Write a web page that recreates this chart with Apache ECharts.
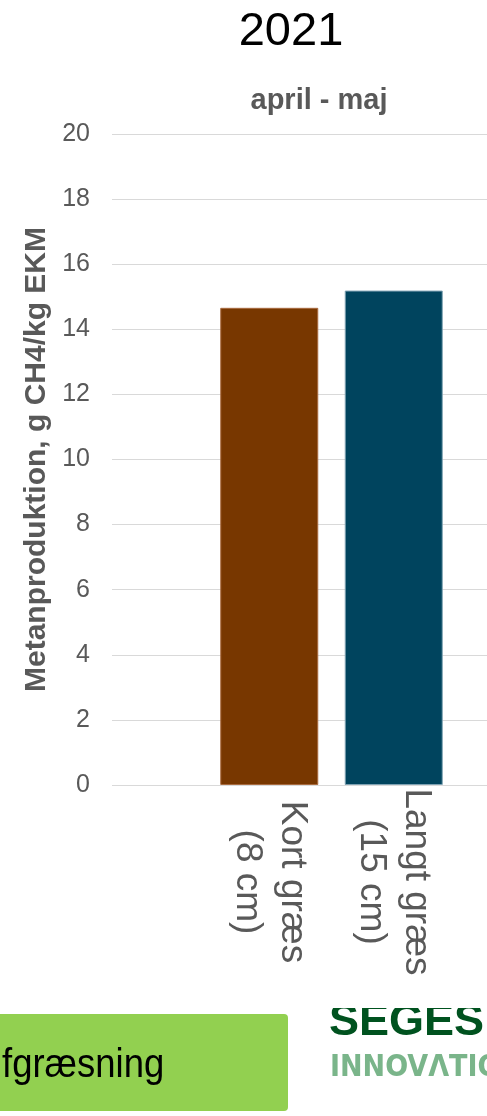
<!DOCTYPE html>
<html>
<head>
<meta charset="utf-8">
<script src="https://cdn.jsdelivr.net/npm/echarts@6/dist/echarts.min.js"></script>
<style>
  html, body { margin: 0; padding: 0; background: #ffffff; }
  #chart { width: 487px; height: 1116px; }
</style>
</head>
<body>
<div id="chart"></div>
<script>
// Methane production per kg energy-corrected milk, April–May 2021
const categories = ['Kort græs\n(8 cm)', 'Langt græs\n(15 cm)'];
const methane = [14.66, 15.19];
const barColors = ['#783700', '#00445E'];
const barBorders = ['#A86A3E', '#7FA2B3'];
const yMin = 0;
const yMax = 20;
const yStep = 2;

const FONT = '"Liberation Sans", Arial, sans-serif';
const NARROW = '"Liberation Sans Narrow", "DejaVu Sans Condensed", sans-serif';
const GREY = '#595959';

const chart = echarts.init(document.getElementById('chart'), null, { renderer: 'canvas' });

chart.setOption({
  backgroundColor: '#ffffff',
  animation: false,
  title: [
    {
      text: '2021', left: 286, top: 4, textAlign: 'center',
      textStyle: { fontFamily: FONT, fontSize: 47, fontWeight: 'normal', color: '#000000' }
    },
    {
      text: 'april - maj', left: 314, top: 81, textAlign: 'center',
      textStyle: { fontFamily: FONT, fontSize: 29, fontWeight: 'bold', color: GREY }
    }
  ],
  grid: [
    // value axis with gridlines spanning the full width
    { left: 112, right: 0, top: 134, bottom: 331 },
    // bar area
    { left: 207, width: 249, top: 134, bottom: 331 }
  ],
  xAxis: [
    { type: 'value', gridIndex: 0, show: false, min: 0, max: 1 },
    {
      type: 'category', gridIndex: 1, data: categories,
      axisLine: { show: false }, axisTick: { show: false },
      axisLabel: {
        rotate: -90, align: 'center', verticalAlign: 'middle', margin: 97,
        fontFamily: FONT, fontSize: 37, lineHeight: 45, color: GREY
      }
    }
  ],
  yAxis: [
    {
      type: 'value', gridIndex: 0, min: yMin, max: yMax, interval: yStep,
      axisLine: { show: false }, axisTick: { show: false },
      axisLabel: { margin: 22, fontFamily: FONT, fontSize: 25, color: GREY },
      splitLine: { lineStyle: { color: '#D9D9D9', width: 1 } },
      name: 'Metanproduktion, g CH4/kg EKM',
      nameLocation: 'middle', nameRotate: 90, nameGap: 55,
      nameTextStyle: { fontFamily: FONT, fontSize: 30, fontWeight: 'bold', color: GREY }
    },
    { type: 'value', gridIndex: 1, min: yMin, max: yMax, interval: yStep, show: false }
  ],
  series: [
    {
      type: 'bar', xAxisIndex: 1, yAxisIndex: 1, barWidth: 98,
      data: methane.map((v, i) => ({
        value: v,
        itemStyle: { color: barColors[i], borderColor: barBorders[i], borderWidth: 1 }
      }))
    }
  ],
  graphic: [
    {
      type: 'rect', left: -6, top: 1014,
      shape: { width: 294, height: 97, r: 4 },
      style: { fill: '#92D050' }
    },
    {
      type: 'text', x: 2, y: 1045, scaleY: 1.12,
      style: { text: 'fgræsning', font: '36.5px ' + FONT, fill: '#000000', verticalAlign: 'top' }
    },
    {
      type: 'text', x: 329, y: 1000,
      style: { text: 'SEGES', fill: '#00521F', font: 'bold 45px ' + FONT, verticalAlign: 'top' }
    },
    // logo band above the wordmark
    {
      type: 'rect', x: 320, y: 990, shape: { width: 167, height: 18 },
      style: { fill: '#ffffff' }
    },
    {
      type: 'text', x: 330, y: 1053,
      style: { text: 'INNOVΛTION', fill: '#7AB58A', font: 'bold 30px ' + NARROW, verticalAlign: 'top' }
    }
  ]
});
</script>
</body>
</html>
